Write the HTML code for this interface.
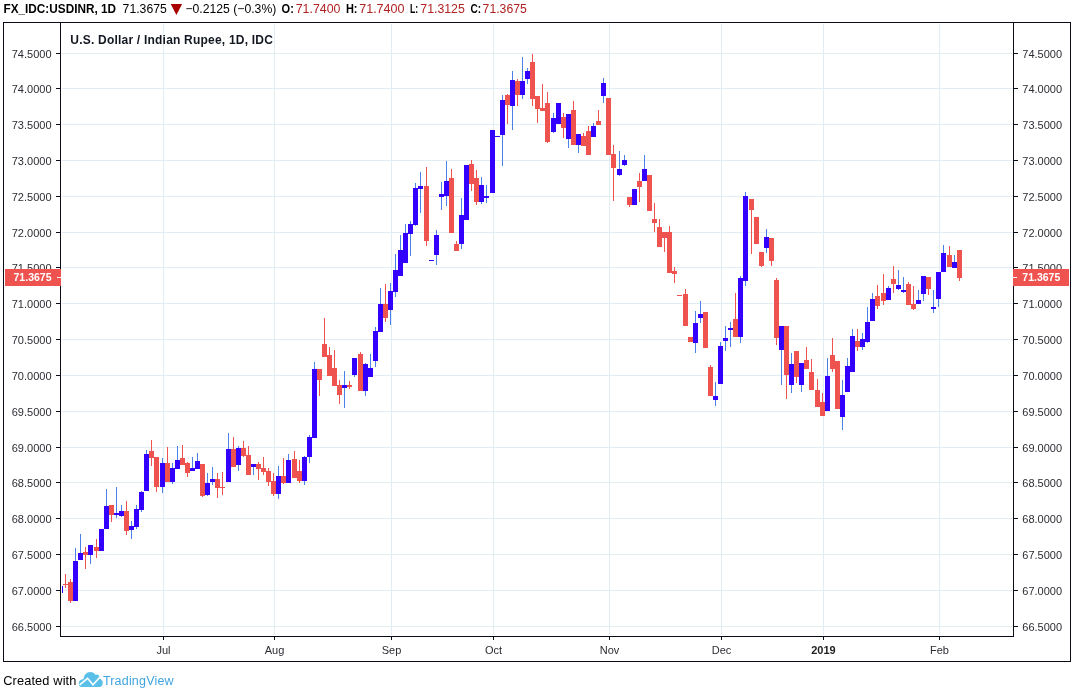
<!DOCTYPE html>
<html><head><meta charset="utf-8"><title>USDINR</title>
<style>html,body{margin:0;padding:0;background:#fff}body{width:1075px;height:691px;overflow:hidden;position:relative}svg{position:absolute;left:0;top:0;display:block;will-change:transform}text{font-family:"Liberation Sans",sans-serif}.ax{font-size:11px;fill:#2c2c34}.hd{font-size:12.3px;fill:#000}.b{font-weight:bold}.rd{fill:#B22222}</style></head><body>
<svg width="1075" height="691" viewBox="0 0 1075 691">
<rect x="0" y="0" width="1075" height="691" fill="#fff"/>
<g shape-rendering="crispEdges" fill="#E1ECF3">
<rect x="62" y="53" width="950" height="1"/>
<rect x="62" y="88" width="950" height="1"/>
<rect x="62" y="124" width="950" height="1"/>
<rect x="62" y="160" width="950" height="1"/>
<rect x="62" y="196" width="950" height="1"/>
<rect x="62" y="232" width="950" height="1"/>
<rect x="62" y="267" width="950" height="1"/>
<rect x="62" y="303" width="950" height="1"/>
<rect x="62" y="339" width="950" height="1"/>
<rect x="62" y="375" width="950" height="1"/>
<rect x="62" y="411" width="950" height="1"/>
<rect x="62" y="447" width="950" height="1"/>
<rect x="62" y="482" width="950" height="1"/>
<rect x="62" y="518" width="950" height="1"/>
<rect x="62" y="554" width="950" height="1"/>
<rect x="62" y="590" width="950" height="1"/>
<rect x="62" y="626" width="950" height="1"/>
<rect x="163" y="24" width="1" height="611"/>
<rect x="274" y="24" width="1" height="611"/>
<rect x="391" y="24" width="1" height="611"/>
<rect x="493" y="24" width="1" height="611"/>
<rect x="609" y="24" width="1" height="611"/>
<rect x="721" y="24" width="1" height="611"/>
<rect x="823" y="24" width="1" height="611"/>
<rect x="939" y="24" width="1" height="611"/>
</g>
<g shape-rendering="crispEdges">
<rect x="62" y="586" width="1" height="7" fill="#3300FF"/>
<rect x="65" y="574" width="1" height="10" fill="#EF5350"/>
<rect x="65" y="585" width="1" height="3" fill="#EF5350"/>
<rect x="63" y="584" width="5" height="1" fill="#EF5350"/>
<rect x="70" y="579" width="1" height="3" fill="#EF5350"/>
<rect x="70" y="601" width="1" height="2" fill="#EF5350"/>
<rect x="68" y="582" width="5" height="19" fill="#EF5350"/>
<rect x="75" y="548" width="1" height="13" fill="#4A80E8"/>
<rect x="73" y="561" width="5" height="40" fill="#3300FF"/>
<rect x="80" y="534" width="1" height="19" fill="#4A80E8"/>
<rect x="78" y="553" width="5" height="7" fill="#3300FF"/>
<rect x="85" y="547" width="1" height="5" fill="#EF5350"/>
<rect x="85" y="555" width="1" height="14" fill="#EF5350"/>
<rect x="83" y="552" width="5" height="3" fill="#EF5350"/>
<rect x="90" y="555" width="1" height="9" fill="#4A80E8"/>
<rect x="88" y="545" width="5" height="10" fill="#3300FF"/>
<rect x="96" y="539" width="1" height="8" fill="#EF5350"/>
<rect x="96" y="551" width="1" height="7" fill="#EF5350"/>
<rect x="94" y="547" width="5" height="4" fill="#EF5350"/>
<rect x="99" y="529" width="5" height="22" fill="#3300FF"/>
<rect x="106" y="489" width="1" height="17" fill="#4A80E8"/>
<rect x="104" y="506" width="5" height="23" fill="#3300FF"/>
<rect x="111" y="515" width="1" height="7" fill="#EF5350"/>
<rect x="109" y="505" width="5" height="10" fill="#EF5350"/>
<rect x="116" y="487" width="1" height="26" fill="#4A80E8"/>
<rect x="116" y="515" width="1" height="3" fill="#4A80E8"/>
<rect x="114" y="513" width="5" height="2" fill="#3300FF"/>
<rect x="121" y="505" width="1" height="6" fill="#4A80E8"/>
<rect x="121" y="516" width="1" height="1" fill="#4A80E8"/>
<rect x="119" y="511" width="5" height="5" fill="#3300FF"/>
<rect x="126" y="501" width="1" height="10" fill="#EF5350"/>
<rect x="126" y="531" width="1" height="4" fill="#EF5350"/>
<rect x="124" y="511" width="5" height="20" fill="#EF5350"/>
<rect x="131" y="521" width="1" height="5" fill="#4A80E8"/>
<rect x="131" y="530" width="1" height="9" fill="#4A80E8"/>
<rect x="129" y="526" width="5" height="4" fill="#3300FF"/>
<rect x="136" y="505" width="1" height="4" fill="#4A80E8"/>
<rect x="136" y="527" width="1" height="2" fill="#4A80E8"/>
<rect x="134" y="509" width="5" height="18" fill="#3300FF"/>
<rect x="141" y="491" width="1" height="1" fill="#4A80E8"/>
<rect x="141" y="510" width="1" height="2" fill="#4A80E8"/>
<rect x="139" y="492" width="5" height="18" fill="#3300FF"/>
<rect x="146" y="450" width="1" height="4" fill="#4A80E8"/>
<rect x="144" y="454" width="5" height="37" fill="#3300FF"/>
<rect x="151" y="440" width="1" height="11" fill="#EF5350"/>
<rect x="151" y="458" width="1" height="8" fill="#EF5350"/>
<rect x="149" y="451" width="5" height="7" fill="#EF5350"/>
<rect x="156" y="487" width="1" height="5" fill="#EF5350"/>
<rect x="154" y="457" width="5" height="30" fill="#EF5350"/>
<rect x="162" y="458" width="1" height="5" fill="#4A80E8"/>
<rect x="162" y="487" width="1" height="6" fill="#4A80E8"/>
<rect x="160" y="463" width="5" height="24" fill="#3300FF"/>
<rect x="167" y="447" width="1" height="16" fill="#EF5350"/>
<rect x="165" y="463" width="5" height="19" fill="#EF5350"/>
<rect x="172" y="463" width="1" height="5" fill="#4A80E8"/>
<rect x="172" y="482" width="1" height="2" fill="#4A80E8"/>
<rect x="170" y="468" width="5" height="14" fill="#3300FF"/>
<rect x="177" y="446" width="1" height="14" fill="#4A80E8"/>
<rect x="175" y="460" width="5" height="9" fill="#3300FF"/>
<rect x="182" y="445" width="1" height="13" fill="#EF5350"/>
<rect x="180" y="458" width="5" height="7" fill="#EF5350"/>
<rect x="187" y="462" width="1" height="1" fill="#EF5350"/>
<rect x="187" y="473" width="1" height="4" fill="#EF5350"/>
<rect x="185" y="463" width="5" height="10" fill="#EF5350"/>
<rect x="192" y="457" width="1" height="11" fill="#4A80E8"/>
<rect x="190" y="468" width="5" height="3" fill="#3300FF"/>
<rect x="197" y="453" width="1" height="8" fill="#4A80E8"/>
<rect x="195" y="461" width="5" height="8" fill="#3300FF"/>
<rect x="202" y="496" width="1" height="1" fill="#EF5350"/>
<rect x="200" y="464" width="5" height="32" fill="#EF5350"/>
<rect x="207" y="473" width="1" height="10" fill="#4A80E8"/>
<rect x="207" y="495" width="1" height="1" fill="#4A80E8"/>
<rect x="205" y="483" width="5" height="12" fill="#3300FF"/>
<rect x="212" y="467" width="1" height="12" fill="#4A80E8"/>
<rect x="212" y="482" width="1" height="3" fill="#4A80E8"/>
<rect x="210" y="479" width="5" height="3" fill="#3300FF"/>
<rect x="217" y="473" width="1" height="6" fill="#EF5350"/>
<rect x="217" y="488" width="1" height="10" fill="#EF5350"/>
<rect x="215" y="479" width="5" height="9" fill="#EF5350"/>
<rect x="222" y="472" width="1" height="15" fill="#EF5350"/>
<rect x="222" y="488" width="1" height="7" fill="#EF5350"/>
<rect x="220" y="487" width="5" height="1" fill="#EF5350"/>
<rect x="228" y="433" width="1" height="16" fill="#4A80E8"/>
<rect x="226" y="449" width="5" height="33" fill="#3300FF"/>
<rect x="233" y="437" width="1" height="12" fill="#EF5350"/>
<rect x="231" y="449" width="5" height="18" fill="#EF5350"/>
<rect x="238" y="446" width="1" height="2" fill="#4A80E8"/>
<rect x="238" y="465" width="1" height="6" fill="#4A80E8"/>
<rect x="236" y="448" width="5" height="17" fill="#3300FF"/>
<rect x="243" y="441" width="1" height="7" fill="#EF5350"/>
<rect x="243" y="456" width="1" height="1" fill="#EF5350"/>
<rect x="241" y="448" width="5" height="8" fill="#EF5350"/>
<rect x="248" y="446" width="1" height="9" fill="#EF5350"/>
<rect x="246" y="455" width="5" height="20" fill="#EF5350"/>
<rect x="253" y="467" width="1" height="8" fill="#4A80E8"/>
<rect x="251" y="464" width="5" height="3" fill="#3300FF"/>
<rect x="258" y="462" width="1" height="2" fill="#EF5350"/>
<rect x="258" y="469" width="1" height="11" fill="#EF5350"/>
<rect x="256" y="464" width="5" height="5" fill="#EF5350"/>
<rect x="263" y="457" width="1" height="11" fill="#EF5350"/>
<rect x="263" y="472" width="1" height="3" fill="#EF5350"/>
<rect x="261" y="468" width="5" height="4" fill="#EF5350"/>
<rect x="268" y="468" width="1" height="3" fill="#EF5350"/>
<rect x="268" y="482" width="1" height="4" fill="#EF5350"/>
<rect x="266" y="471" width="5" height="11" fill="#EF5350"/>
<rect x="273" y="473" width="1" height="8" fill="#EF5350"/>
<rect x="273" y="494" width="1" height="2" fill="#EF5350"/>
<rect x="271" y="481" width="5" height="13" fill="#EF5350"/>
<rect x="278" y="466" width="1" height="10" fill="#4A80E8"/>
<rect x="278" y="494" width="1" height="5" fill="#4A80E8"/>
<rect x="276" y="476" width="5" height="18" fill="#3300FF"/>
<rect x="283" y="458" width="1" height="18" fill="#EF5350"/>
<rect x="283" y="483" width="1" height="1" fill="#EF5350"/>
<rect x="281" y="476" width="5" height="7" fill="#EF5350"/>
<rect x="288" y="454" width="1" height="6" fill="#4A80E8"/>
<rect x="286" y="460" width="5" height="23" fill="#3300FF"/>
<rect x="294" y="451" width="1" height="8" fill="#EF5350"/>
<rect x="292" y="459" width="5" height="19" fill="#EF5350"/>
<rect x="299" y="460" width="1" height="11" fill="#EF5350"/>
<rect x="299" y="481" width="1" height="2" fill="#EF5350"/>
<rect x="297" y="471" width="5" height="10" fill="#EF5350"/>
<rect x="304" y="456" width="1" height="1" fill="#4A80E8"/>
<rect x="304" y="481" width="1" height="4" fill="#4A80E8"/>
<rect x="302" y="457" width="5" height="24" fill="#3300FF"/>
<rect x="309" y="435" width="1" height="2" fill="#4A80E8"/>
<rect x="309" y="457" width="1" height="6" fill="#4A80E8"/>
<rect x="307" y="437" width="5" height="20" fill="#3300FF"/>
<rect x="314" y="362" width="1" height="7" fill="#4A80E8"/>
<rect x="312" y="369" width="5" height="69" fill="#3300FF"/>
<rect x="319" y="380" width="1" height="16" fill="#EF5350"/>
<rect x="317" y="369" width="5" height="11" fill="#EF5350"/>
<rect x="324" y="318" width="1" height="26" fill="#EF5350"/>
<rect x="322" y="344" width="5" height="13" fill="#EF5350"/>
<rect x="329" y="347" width="1" height="8" fill="#EF5350"/>
<rect x="327" y="355" width="5" height="21" fill="#EF5350"/>
<rect x="334" y="350" width="1" height="18" fill="#EF5350"/>
<rect x="332" y="368" width="5" height="18" fill="#EF5350"/>
<rect x="339" y="380" width="1" height="5" fill="#EF5350"/>
<rect x="339" y="395" width="1" height="9" fill="#EF5350"/>
<rect x="337" y="385" width="5" height="10" fill="#EF5350"/>
<rect x="344" y="371" width="1" height="14" fill="#4A80E8"/>
<rect x="344" y="388" width="1" height="20" fill="#4A80E8"/>
<rect x="342" y="385" width="5" height="3" fill="#3300FF"/>
<rect x="349" y="381" width="1" height="4" fill="#EF5350"/>
<rect x="349" y="387" width="1" height="2" fill="#EF5350"/>
<rect x="347" y="385" width="5" height="2" fill="#EF5350"/>
<rect x="354" y="375" width="1" height="2" fill="#4A80E8"/>
<rect x="352" y="358" width="5" height="17" fill="#3300FF"/>
<rect x="360" y="352" width="1" height="2" fill="#EF5350"/>
<rect x="358" y="354" width="5" height="37" fill="#EF5350"/>
<rect x="365" y="363" width="1" height="1" fill="#4A80E8"/>
<rect x="365" y="391" width="1" height="5" fill="#4A80E8"/>
<rect x="363" y="364" width="5" height="27" fill="#3300FF"/>
<rect x="370" y="354" width="1" height="14" fill="#4A80E8"/>
<rect x="368" y="368" width="5" height="9" fill="#3300FF"/>
<rect x="375" y="327" width="1" height="4" fill="#4A80E8"/>
<rect x="375" y="361" width="1" height="6" fill="#4A80E8"/>
<rect x="373" y="331" width="5" height="30" fill="#3300FF"/>
<rect x="380" y="288" width="1" height="16" fill="#4A80E8"/>
<rect x="378" y="304" width="5" height="28" fill="#3300FF"/>
<rect x="385" y="284" width="1" height="20" fill="#EF5350"/>
<rect x="385" y="318" width="1" height="4" fill="#EF5350"/>
<rect x="383" y="304" width="5" height="14" fill="#EF5350"/>
<rect x="390" y="283" width="1" height="8" fill="#4A80E8"/>
<rect x="390" y="310" width="1" height="15" fill="#4A80E8"/>
<rect x="388" y="291" width="5" height="19" fill="#3300FF"/>
<rect x="395" y="254" width="1" height="16" fill="#4A80E8"/>
<rect x="395" y="292" width="1" height="5" fill="#4A80E8"/>
<rect x="393" y="270" width="5" height="22" fill="#3300FF"/>
<rect x="400" y="235" width="1" height="15" fill="#4A80E8"/>
<rect x="398" y="250" width="5" height="26" fill="#3300FF"/>
<rect x="405" y="224" width="1" height="9" fill="#4A80E8"/>
<rect x="403" y="233" width="5" height="30" fill="#3300FF"/>
<rect x="410" y="221" width="1" height="3" fill="#4A80E8"/>
<rect x="410" y="234" width="1" height="22" fill="#4A80E8"/>
<rect x="408" y="224" width="5" height="10" fill="#3300FF"/>
<rect x="415" y="183" width="1" height="5" fill="#4A80E8"/>
<rect x="415" y="225" width="1" height="1" fill="#4A80E8"/>
<rect x="413" y="188" width="5" height="37" fill="#3300FF"/>
<rect x="420" y="172" width="1" height="14" fill="#4A80E8"/>
<rect x="420" y="189" width="1" height="24" fill="#4A80E8"/>
<rect x="418" y="186" width="5" height="3" fill="#3300FF"/>
<rect x="426" y="167" width="1" height="19" fill="#EF5350"/>
<rect x="426" y="241" width="1" height="5" fill="#EF5350"/>
<rect x="424" y="186" width="5" height="55" fill="#EF5350"/>
<rect x="429" y="260" width="5" height="1" fill="#3300FF"/>
<rect x="436" y="230" width="1" height="5" fill="#4A80E8"/>
<rect x="436" y="255" width="1" height="10" fill="#4A80E8"/>
<rect x="434" y="235" width="5" height="20" fill="#3300FF"/>
<rect x="441" y="182" width="1" height="12" fill="#4A80E8"/>
<rect x="441" y="197" width="1" height="13" fill="#4A80E8"/>
<rect x="439" y="194" width="5" height="3" fill="#3300FF"/>
<rect x="446" y="161" width="1" height="20" fill="#4A80E8"/>
<rect x="446" y="196" width="1" height="10" fill="#4A80E8"/>
<rect x="444" y="181" width="5" height="15" fill="#3300FF"/>
<rect x="451" y="169" width="1" height="9" fill="#EF5350"/>
<rect x="449" y="178" width="5" height="55" fill="#EF5350"/>
<rect x="456" y="241" width="1" height="3" fill="#EF5350"/>
<rect x="454" y="244" width="5" height="7" fill="#EF5350"/>
<rect x="461" y="198" width="1" height="17" fill="#4A80E8"/>
<rect x="461" y="244" width="1" height="5" fill="#4A80E8"/>
<rect x="459" y="215" width="5" height="29" fill="#3300FF"/>
<rect x="464" y="165" width="5" height="55" fill="#3300FF"/>
<rect x="471" y="160" width="1" height="4" fill="#EF5350"/>
<rect x="471" y="184" width="1" height="7" fill="#EF5350"/>
<rect x="469" y="164" width="5" height="20" fill="#EF5350"/>
<rect x="476" y="170" width="1" height="8" fill="#EF5350"/>
<rect x="476" y="202" width="1" height="3" fill="#EF5350"/>
<rect x="474" y="178" width="5" height="24" fill="#EF5350"/>
<rect x="481" y="177" width="1" height="8" fill="#4A80E8"/>
<rect x="481" y="202" width="1" height="2" fill="#4A80E8"/>
<rect x="479" y="185" width="5" height="17" fill="#3300FF"/>
<rect x="486" y="185" width="1" height="11" fill="#4A80E8"/>
<rect x="486" y="198" width="1" height="5" fill="#4A80E8"/>
<rect x="484" y="196" width="5" height="2" fill="#3300FF"/>
<rect x="490" y="130" width="5" height="63" fill="#3300FF"/>
<rect x="495" y="136" width="5" height="1" fill="#3300FF"/>
<rect x="502" y="95" width="1" height="5" fill="#4A80E8"/>
<rect x="502" y="135" width="1" height="31" fill="#4A80E8"/>
<rect x="500" y="100" width="5" height="35" fill="#3300FF"/>
<rect x="507" y="94" width="1" height="1" fill="#EF5350"/>
<rect x="507" y="105" width="1" height="19" fill="#EF5350"/>
<rect x="505" y="95" width="5" height="10" fill="#EF5350"/>
<rect x="512" y="71" width="1" height="9" fill="#4A80E8"/>
<rect x="512" y="106" width="1" height="24" fill="#4A80E8"/>
<rect x="510" y="80" width="5" height="26" fill="#3300FF"/>
<rect x="517" y="79" width="1" height="2" fill="#EF5350"/>
<rect x="517" y="95" width="1" height="11" fill="#EF5350"/>
<rect x="515" y="81" width="5" height="14" fill="#EF5350"/>
<rect x="522" y="57" width="1" height="24" fill="#4A80E8"/>
<rect x="522" y="95" width="1" height="4" fill="#4A80E8"/>
<rect x="520" y="81" width="5" height="14" fill="#3300FF"/>
<rect x="527" y="68" width="1" height="3" fill="#4A80E8"/>
<rect x="527" y="79" width="1" height="5" fill="#4A80E8"/>
<rect x="525" y="71" width="5" height="8" fill="#3300FF"/>
<rect x="532" y="54" width="1" height="8" fill="#EF5350"/>
<rect x="532" y="99" width="1" height="7" fill="#EF5350"/>
<rect x="530" y="62" width="5" height="37" fill="#EF5350"/>
<rect x="537" y="109" width="1" height="14" fill="#EF5350"/>
<rect x="535" y="96" width="5" height="13" fill="#EF5350"/>
<rect x="542" y="84" width="1" height="24" fill="#EF5350"/>
<rect x="540" y="108" width="5" height="3" fill="#EF5350"/>
<rect x="547" y="92" width="1" height="11" fill="#EF5350"/>
<rect x="547" y="142" width="1" height="1" fill="#EF5350"/>
<rect x="545" y="103" width="5" height="39" fill="#EF5350"/>
<rect x="553" y="113" width="1" height="5" fill="#4A80E8"/>
<rect x="553" y="132" width="1" height="1" fill="#4A80E8"/>
<rect x="551" y="118" width="5" height="14" fill="#3300FF"/>
<rect x="556" y="103" width="5" height="21" fill="#3300FF"/>
<rect x="563" y="113" width="1" height="4" fill="#EF5350"/>
<rect x="563" y="128" width="1" height="10" fill="#EF5350"/>
<rect x="561" y="117" width="5" height="11" fill="#EF5350"/>
<rect x="568" y="139" width="1" height="9" fill="#4A80E8"/>
<rect x="566" y="114" width="5" height="25" fill="#3300FF"/>
<rect x="573" y="101" width="1" height="9" fill="#EF5350"/>
<rect x="571" y="110" width="5" height="35" fill="#EF5350"/>
<rect x="578" y="145" width="1" height="8" fill="#4A80E8"/>
<rect x="576" y="134" width="5" height="11" fill="#3300FF"/>
<rect x="583" y="133" width="1" height="3" fill="#EF5350"/>
<rect x="581" y="136" width="5" height="10" fill="#EF5350"/>
<rect x="588" y="126" width="1" height="5" fill="#EF5350"/>
<rect x="586" y="131" width="5" height="24" fill="#EF5350"/>
<rect x="593" y="123" width="1" height="3" fill="#4A80E8"/>
<rect x="591" y="126" width="5" height="11" fill="#3300FF"/>
<rect x="598" y="110" width="1" height="11" fill="#EF5350"/>
<rect x="596" y="121" width="5" height="4" fill="#EF5350"/>
<rect x="603" y="78" width="1" height="5" fill="#4A80E8"/>
<rect x="603" y="96" width="1" height="7" fill="#4A80E8"/>
<rect x="601" y="83" width="5" height="13" fill="#3300FF"/>
<rect x="606" y="98" width="5" height="57" fill="#EF5350"/>
<rect x="613" y="145" width="1" height="9" fill="#EF5350"/>
<rect x="613" y="168" width="1" height="33" fill="#EF5350"/>
<rect x="611" y="154" width="5" height="14" fill="#EF5350"/>
<rect x="619" y="151" width="1" height="18" fill="#4A80E8"/>
<rect x="619" y="175" width="1" height="1" fill="#4A80E8"/>
<rect x="617" y="169" width="5" height="6" fill="#3300FF"/>
<rect x="624" y="155" width="1" height="5" fill="#4A80E8"/>
<rect x="624" y="165" width="1" height="1" fill="#4A80E8"/>
<rect x="622" y="160" width="5" height="5" fill="#3300FF"/>
<rect x="629" y="205" width="1" height="2" fill="#EF5350"/>
<rect x="627" y="197" width="5" height="8" fill="#EF5350"/>
<rect x="632" y="189" width="5" height="16" fill="#3300FF"/>
<rect x="639" y="173" width="1" height="8" fill="#EF5350"/>
<rect x="639" y="187" width="1" height="15" fill="#EF5350"/>
<rect x="637" y="181" width="5" height="6" fill="#EF5350"/>
<rect x="644" y="155" width="1" height="14" fill="#4A80E8"/>
<rect x="642" y="169" width="5" height="12" fill="#3300FF"/>
<rect x="647" y="175" width="5" height="36" fill="#EF5350"/>
<rect x="654" y="203" width="1" height="16" fill="#EF5350"/>
<rect x="654" y="223" width="1" height="9" fill="#EF5350"/>
<rect x="652" y="219" width="5" height="4" fill="#EF5350"/>
<rect x="659" y="219" width="1" height="8" fill="#EF5350"/>
<rect x="657" y="227" width="5" height="20" fill="#EF5350"/>
<rect x="664" y="238" width="1" height="14" fill="#EF5350"/>
<rect x="662" y="232" width="5" height="6" fill="#EF5350"/>
<rect x="669" y="226" width="1" height="6" fill="#EF5350"/>
<rect x="667" y="232" width="5" height="41" fill="#EF5350"/>
<rect x="674" y="267" width="1" height="4" fill="#EF5350"/>
<rect x="674" y="274" width="1" height="9" fill="#EF5350"/>
<rect x="672" y="271" width="5" height="3" fill="#EF5350"/>
<rect x="677" y="295" width="5" height="1" fill="#EF5350"/>
<rect x="685" y="289" width="1" height="5" fill="#EF5350"/>
<rect x="683" y="294" width="5" height="32" fill="#EF5350"/>
<rect x="688" y="337" width="5" height="5" fill="#EF5350"/>
<rect x="695" y="311" width="1" height="12" fill="#4A80E8"/>
<rect x="695" y="343" width="1" height="10" fill="#4A80E8"/>
<rect x="693" y="323" width="5" height="20" fill="#3300FF"/>
<rect x="700" y="301" width="1" height="13" fill="#4A80E8"/>
<rect x="700" y="318" width="1" height="5" fill="#4A80E8"/>
<rect x="698" y="314" width="5" height="4" fill="#3300FF"/>
<rect x="703" y="312" width="5" height="36" fill="#EF5350"/>
<rect x="710" y="365" width="1" height="2" fill="#EF5350"/>
<rect x="708" y="367" width="5" height="29" fill="#EF5350"/>
<rect x="715" y="382" width="1" height="14" fill="#4A80E8"/>
<rect x="715" y="400" width="1" height="6" fill="#4A80E8"/>
<rect x="713" y="396" width="5" height="4" fill="#3300FF"/>
<rect x="720" y="342" width="1" height="4" fill="#4A80E8"/>
<rect x="718" y="346" width="5" height="38" fill="#3300FF"/>
<rect x="725" y="326" width="1" height="12" fill="#4A80E8"/>
<rect x="725" y="341" width="1" height="10" fill="#4A80E8"/>
<rect x="723" y="338" width="5" height="3" fill="#3300FF"/>
<rect x="730" y="322" width="1" height="6" fill="#4A80E8"/>
<rect x="730" y="330" width="1" height="17" fill="#4A80E8"/>
<rect x="728" y="328" width="5" height="2" fill="#3300FF"/>
<rect x="735" y="293" width="1" height="26" fill="#EF5350"/>
<rect x="733" y="319" width="5" height="18" fill="#EF5350"/>
<rect x="740" y="276" width="1" height="2" fill="#4A80E8"/>
<rect x="740" y="337" width="1" height="6" fill="#4A80E8"/>
<rect x="738" y="278" width="5" height="59" fill="#3300FF"/>
<rect x="745" y="192" width="1" height="4" fill="#4A80E8"/>
<rect x="745" y="281" width="1" height="5" fill="#4A80E8"/>
<rect x="743" y="196" width="5" height="85" fill="#3300FF"/>
<rect x="751" y="210" width="1" height="44" fill="#EF5350"/>
<rect x="749" y="199" width="5" height="11" fill="#EF5350"/>
<rect x="754" y="217" width="5" height="27" fill="#EF5350"/>
<rect x="761" y="266" width="1" height="1" fill="#EF5350"/>
<rect x="759" y="252" width="5" height="14" fill="#EF5350"/>
<rect x="766" y="229" width="1" height="8" fill="#4A80E8"/>
<rect x="766" y="248" width="1" height="5" fill="#4A80E8"/>
<rect x="764" y="237" width="5" height="11" fill="#3300FF"/>
<rect x="771" y="261" width="1" height="5" fill="#EF5350"/>
<rect x="769" y="238" width="5" height="23" fill="#EF5350"/>
<rect x="776" y="278" width="1" height="2" fill="#EF5350"/>
<rect x="776" y="338" width="1" height="7" fill="#EF5350"/>
<rect x="774" y="280" width="5" height="58" fill="#EF5350"/>
<rect x="781" y="350" width="1" height="35" fill="#4A80E8"/>
<rect x="779" y="326" width="5" height="24" fill="#3300FF"/>
<rect x="786" y="375" width="1" height="24" fill="#EF5350"/>
<rect x="784" y="326" width="5" height="49" fill="#EF5350"/>
<rect x="791" y="353" width="1" height="11" fill="#4A80E8"/>
<rect x="791" y="385" width="1" height="8" fill="#4A80E8"/>
<rect x="789" y="364" width="5" height="21" fill="#3300FF"/>
<rect x="796" y="377" width="1" height="6" fill="#EF5350"/>
<rect x="794" y="351" width="5" height="26" fill="#EF5350"/>
<rect x="801" y="385" width="1" height="7" fill="#4A80E8"/>
<rect x="799" y="363" width="5" height="22" fill="#3300FF"/>
<rect x="806" y="347" width="1" height="13" fill="#EF5350"/>
<rect x="804" y="360" width="5" height="9" fill="#EF5350"/>
<rect x="811" y="359" width="1" height="13" fill="#EF5350"/>
<rect x="809" y="372" width="5" height="18" fill="#EF5350"/>
<rect x="817" y="379" width="1" height="11" fill="#EF5350"/>
<rect x="815" y="390" width="5" height="17" fill="#EF5350"/>
<rect x="822" y="393" width="1" height="9" fill="#EF5350"/>
<rect x="820" y="402" width="5" height="14" fill="#EF5350"/>
<rect x="827" y="358" width="1" height="18" fill="#4A80E8"/>
<rect x="825" y="376" width="5" height="35" fill="#3300FF"/>
<rect x="832" y="338" width="1" height="17" fill="#EF5350"/>
<rect x="832" y="369" width="1" height="3" fill="#EF5350"/>
<rect x="830" y="355" width="5" height="14" fill="#EF5350"/>
<rect x="835" y="361" width="5" height="48" fill="#EF5350"/>
<rect x="842" y="380" width="1" height="15" fill="#4A80E8"/>
<rect x="842" y="417" width="1" height="13" fill="#4A80E8"/>
<rect x="840" y="395" width="5" height="22" fill="#3300FF"/>
<rect x="847" y="358" width="1" height="8" fill="#4A80E8"/>
<rect x="845" y="366" width="5" height="26" fill="#3300FF"/>
<rect x="852" y="329" width="1" height="7" fill="#4A80E8"/>
<rect x="850" y="336" width="5" height="36" fill="#3300FF"/>
<rect x="857" y="329" width="1" height="12" fill="#EF5350"/>
<rect x="857" y="347" width="1" height="4" fill="#EF5350"/>
<rect x="855" y="341" width="5" height="6" fill="#EF5350"/>
<rect x="862" y="333" width="1" height="6" fill="#4A80E8"/>
<rect x="862" y="347" width="1" height="3" fill="#4A80E8"/>
<rect x="860" y="339" width="5" height="8" fill="#3300FF"/>
<rect x="867" y="307" width="1" height="15" fill="#4A80E8"/>
<rect x="867" y="342" width="1" height="1" fill="#4A80E8"/>
<rect x="865" y="322" width="5" height="20" fill="#3300FF"/>
<rect x="872" y="293" width="1" height="6" fill="#4A80E8"/>
<rect x="870" y="299" width="5" height="22" fill="#3300FF"/>
<rect x="877" y="285" width="1" height="11" fill="#EF5350"/>
<rect x="877" y="306" width="1" height="3" fill="#EF5350"/>
<rect x="875" y="296" width="5" height="10" fill="#EF5350"/>
<rect x="883" y="274" width="1" height="19" fill="#EF5350"/>
<rect x="883" y="301" width="1" height="4" fill="#EF5350"/>
<rect x="881" y="293" width="5" height="8" fill="#EF5350"/>
<rect x="888" y="286" width="1" height="2" fill="#4A80E8"/>
<rect x="886" y="288" width="5" height="12" fill="#3300FF"/>
<rect x="893" y="266" width="1" height="13" fill="#EF5350"/>
<rect x="893" y="284" width="1" height="9" fill="#EF5350"/>
<rect x="891" y="279" width="5" height="5" fill="#EF5350"/>
<rect x="898" y="270" width="1" height="15" fill="#4A80E8"/>
<rect x="898" y="289" width="1" height="1" fill="#4A80E8"/>
<rect x="896" y="285" width="5" height="4" fill="#3300FF"/>
<rect x="903" y="277" width="1" height="13" fill="#4A80E8"/>
<rect x="903" y="292" width="1" height="1" fill="#4A80E8"/>
<rect x="901" y="290" width="5" height="2" fill="#3300FF"/>
<rect x="908" y="282" width="1" height="2" fill="#EF5350"/>
<rect x="906" y="284" width="5" height="21" fill="#EF5350"/>
<rect x="913" y="286" width="1" height="18" fill="#EF5350"/>
<rect x="913" y="309" width="1" height="1" fill="#EF5350"/>
<rect x="911" y="304" width="5" height="5" fill="#EF5350"/>
<rect x="918" y="290" width="1" height="10" fill="#4A80E8"/>
<rect x="916" y="300" width="5" height="4" fill="#3300FF"/>
<rect x="923" y="294" width="1" height="7" fill="#4A80E8"/>
<rect x="921" y="276" width="5" height="18" fill="#3300FF"/>
<rect x="928" y="289" width="1" height="6" fill="#EF5350"/>
<rect x="926" y="277" width="5" height="12" fill="#EF5350"/>
<rect x="933" y="290" width="1" height="17" fill="#4A80E8"/>
<rect x="933" y="309" width="1" height="4" fill="#4A80E8"/>
<rect x="931" y="307" width="5" height="2" fill="#3300FF"/>
<rect x="938" y="299" width="1" height="8" fill="#4A80E8"/>
<rect x="936" y="272" width="5" height="27" fill="#3300FF"/>
<rect x="943" y="245" width="1" height="8" fill="#4A80E8"/>
<rect x="941" y="253" width="5" height="19" fill="#3300FF"/>
<rect x="949" y="246" width="1" height="9" fill="#EF5350"/>
<rect x="947" y="255" width="5" height="12" fill="#EF5350"/>
<rect x="954" y="255" width="1" height="7" fill="#4A80E8"/>
<rect x="952" y="262" width="5" height="6" fill="#3300FF"/>
<rect x="959" y="278" width="1" height="3" fill="#EF5350"/>
<rect x="957" y="250" width="5" height="28" fill="#EF5350"/>
</g>
<g shape-rendering="crispEdges" fill="#0c0c18">
<rect x="3" y="22" width="1068" height="1"/>
<rect x="3" y="661" width="1068" height="1"/>
<rect x="3" y="22" width="1" height="640"/>
<rect x="1070" y="22" width="1" height="640"/>
<rect x="60" y="22" width="1" height="615"/>
<rect x="1013" y="22" width="1" height="615"/>
<rect x="60" y="636" width="954" height="1"/>
<rect x="56" y="53" width="4" height="1"/>
<rect x="1014" y="53" width="4" height="1"/>
<rect x="56" y="88" width="4" height="1"/>
<rect x="1014" y="88" width="4" height="1"/>
<rect x="56" y="124" width="4" height="1"/>
<rect x="1014" y="124" width="4" height="1"/>
<rect x="56" y="160" width="4" height="1"/>
<rect x="1014" y="160" width="4" height="1"/>
<rect x="56" y="196" width="4" height="1"/>
<rect x="1014" y="196" width="4" height="1"/>
<rect x="56" y="232" width="4" height="1"/>
<rect x="1014" y="232" width="4" height="1"/>
<rect x="56" y="267" width="4" height="1"/>
<rect x="1014" y="267" width="4" height="1"/>
<rect x="56" y="303" width="4" height="1"/>
<rect x="1014" y="303" width="4" height="1"/>
<rect x="56" y="339" width="4" height="1"/>
<rect x="1014" y="339" width="4" height="1"/>
<rect x="56" y="375" width="4" height="1"/>
<rect x="1014" y="375" width="4" height="1"/>
<rect x="56" y="411" width="4" height="1"/>
<rect x="1014" y="411" width="4" height="1"/>
<rect x="56" y="447" width="4" height="1"/>
<rect x="1014" y="447" width="4" height="1"/>
<rect x="56" y="482" width="4" height="1"/>
<rect x="1014" y="482" width="4" height="1"/>
<rect x="56" y="518" width="4" height="1"/>
<rect x="1014" y="518" width="4" height="1"/>
<rect x="56" y="554" width="4" height="1"/>
<rect x="1014" y="554" width="4" height="1"/>
<rect x="56" y="590" width="4" height="1"/>
<rect x="1014" y="590" width="4" height="1"/>
<rect x="56" y="626" width="4" height="1"/>
<rect x="1014" y="626" width="4" height="1"/>
<rect x="163" y="637" width="1" height="3"/>
<rect x="274" y="637" width="1" height="3"/>
<rect x="391" y="637" width="1" height="3"/>
<rect x="493" y="637" width="1" height="3"/>
<rect x="609" y="637" width="1" height="3"/>
<rect x="721" y="637" width="1" height="3"/>
<rect x="823" y="637" width="1" height="3"/>
<rect x="939" y="637" width="1" height="3"/>
</g>
<text class="ax" x="51.5" y="57.5" text-anchor="end">74.5000</text>
<text class="ax" x="1022.3" y="57.5">74.5000</text>
<text class="ax" x="51.5" y="92.5" text-anchor="end">74.0000</text>
<text class="ax" x="1022.3" y="92.5">74.0000</text>
<text class="ax" x="51.5" y="128.5" text-anchor="end">73.5000</text>
<text class="ax" x="1022.3" y="128.5">73.5000</text>
<text class="ax" x="51.5" y="164.5" text-anchor="end">73.0000</text>
<text class="ax" x="1022.3" y="164.5">73.0000</text>
<text class="ax" x="51.5" y="200.5" text-anchor="end">72.5000</text>
<text class="ax" x="1022.3" y="200.5">72.5000</text>
<text class="ax" x="51.5" y="236.5" text-anchor="end">72.0000</text>
<text class="ax" x="1022.3" y="236.5">72.0000</text>
<text class="ax" x="51.5" y="271.5" text-anchor="end">71.5000</text>
<text class="ax" x="1022.3" y="271.5">71.5000</text>
<text class="ax" x="51.5" y="307.5" text-anchor="end">71.0000</text>
<text class="ax" x="1022.3" y="307.5">71.0000</text>
<text class="ax" x="51.5" y="343.5" text-anchor="end">70.5000</text>
<text class="ax" x="1022.3" y="343.5">70.5000</text>
<text class="ax" x="51.5" y="379.5" text-anchor="end">70.0000</text>
<text class="ax" x="1022.3" y="379.5">70.0000</text>
<text class="ax" x="51.5" y="415.5" text-anchor="end">69.5000</text>
<text class="ax" x="1022.3" y="415.5">69.5000</text>
<text class="ax" x="51.5" y="451.5" text-anchor="end">69.0000</text>
<text class="ax" x="1022.3" y="451.5">69.0000</text>
<text class="ax" x="51.5" y="486.5" text-anchor="end">68.5000</text>
<text class="ax" x="1022.3" y="486.5">68.5000</text>
<text class="ax" x="51.5" y="522.5" text-anchor="end">68.0000</text>
<text class="ax" x="1022.3" y="522.5">68.0000</text>
<text class="ax" x="51.5" y="558.5" text-anchor="end">67.5000</text>
<text class="ax" x="1022.3" y="558.5">67.5000</text>
<text class="ax" x="51.5" y="594.5" text-anchor="end">67.0000</text>
<text class="ax" x="1022.3" y="594.5">67.0000</text>
<text class="ax" x="51.5" y="630.5" text-anchor="end">66.5000</text>
<text class="ax" x="1022.3" y="630.5">66.5000</text>
<text class="ax" x="163.5" y="654" text-anchor="middle">Jul</text>
<text class="ax" x="274.5" y="654" text-anchor="middle">Aug</text>
<text class="ax" x="391.5" y="654" text-anchor="middle">Sep</text>
<text class="ax" x="493.5" y="654" text-anchor="middle">Oct</text>
<text class="ax" x="609.5" y="654" text-anchor="middle">Nov</text>
<text class="ax" x="721.5" y="654" text-anchor="middle">Dec</text>
<text class="ax b" style="fill:#222" x="823.5" y="654" text-anchor="middle">2019</text>
<text class="ax" x="939.5" y="654" text-anchor="middle">Feb</text>
<g shape-rendering="crispEdges"><rect x="5" y="269" width="56" height="17" fill="#EF5350"/><rect x="1013" y="269" width="56" height="17" fill="#EF5350"/><rect x="57" y="277" width="4" height="1" fill="#fff"/><rect x="1013" y="277" width="4" height="1" fill="#fff"/></g>
<text class="b" style="fill:#fff;font-size:10.5px" x="51.5" y="280.8" text-anchor="end">71.3675</text>
<text class="b" style="fill:#fff;font-size:10.5px" x="1022.3" y="280.8">71.3675</text>
<text class="b" style="font-size:12px;fill:#131722" x="70.3" y="43.8" textLength="202.6" lengthAdjust="spacing">U.S. Dollar / Indian Rupee, 1D, IDC</text>
<text class="hd b" x="3.5" y="13" textLength="112.5" lengthAdjust="spacingAndGlyphs">FX_IDC:USDINR, 1D</text>
<text class="hd " x="122.6" y="13" textLength="44.2" lengthAdjust="spacingAndGlyphs">71.3675</text>
<path d="M170.7 4 L182.1 4 L176.4 15 Z" fill="#A80000"/>
<text class="hd " x="185.4" y="13" textLength="90.9" lengthAdjust="spacingAndGlyphs">−0.2125 (−0.3%)</text>
<text class="hd b" x="281.6" y="13" textLength="12.3" lengthAdjust="spacingAndGlyphs">O:</text>
<text class="hd rd" x="295.7" y="13" textLength="44.7" lengthAdjust="spacingAndGlyphs">71.7400</text>
<text class="hd b" x="345.9" y="13" textLength="11.6" lengthAdjust="spacingAndGlyphs">H:</text>
<text class="hd rd" x="359.2" y="13" textLength="45.3" lengthAdjust="spacingAndGlyphs">71.7400</text>
<text class="hd b" x="410.0" y="13" textLength="8.3" lengthAdjust="spacingAndGlyphs">L:</text>
<text class="hd rd" x="420.3" y="13" textLength="44.5" lengthAdjust="spacingAndGlyphs">71.3125</text>
<text class="hd b" x="470.5" y="13" textLength="10.6" lengthAdjust="spacingAndGlyphs">C:</text>
<text class="hd rd" x="482.6" y="13" textLength="44.2" lengthAdjust="spacingAndGlyphs">71.3675</text>
<text style="font-size:12.8px;fill:#000" x="3.2" y="684.7" textLength="73.2" lengthAdjust="spacing">Created with</text>
<g><path fill="#5BC0E8" d="M81.5 687 C79.6 687 78.8 685.2 78.8 683.2 C78.8 681 80.6 679.2 83.6 679 C83.9 675 86.6 672 90.2 672 C92.6 672 94.6 673.2 95.6 674.9 C96.2 674.6 96.9 674.5 97.6 674.8 C99 675.3 99.8 676.6 99.5 678.6 C101.5 679.3 102.8 680.9 102.8 683 C102.8 685.3 101.4 687 99.4 687 Z"/><polyline points="79.6,684.8 87.6,678.3 93.0,684.7 99.8,677.2" fill="none" stroke="#fff" stroke-width="1.6" stroke-linejoin="miter"/></g>
<text style="font-size:12.5px;fill:#3FA4E0" x="102.9" y="684.7" textLength="70.7" lengthAdjust="spacing">TradingView</text>
</svg></body></html>
